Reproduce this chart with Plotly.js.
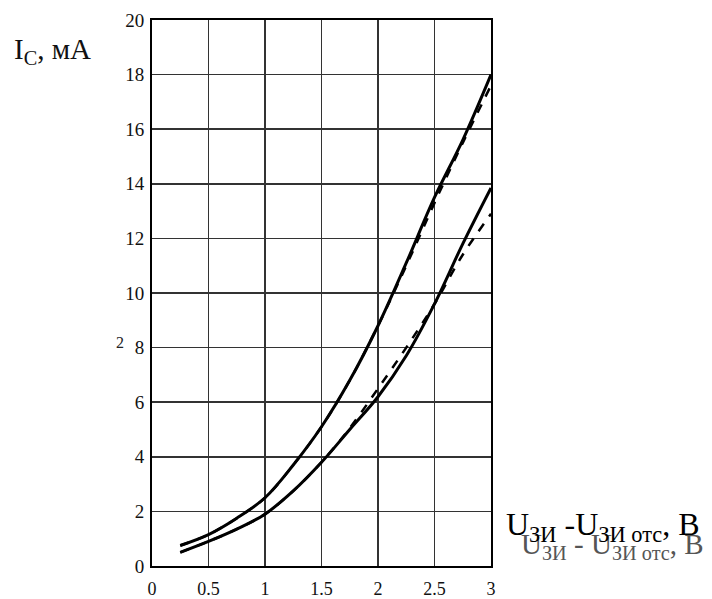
<!DOCTYPE html>
<html>
<head>
<meta charset="utf-8">
<script src="https://cdn.plot.ly/plotly-3.0.1.min.js"></script>
<style>html,body{margin:0;padding:0;background:#fff;}#chart{width:712px;height:599px;}</style>
</head>
<body>
<div id="chart"></div>
<script>
// Data
const xVals = [0.25, 0.5, 0.75, 1, 1.25, 1.5, 1.75, 2, 2.25, 2.5, 2.75, 3];
const upperSolid = [0.75, 1.15, 1.75, 2.5, 3.7, 5.1, 6.8, 8.8, 11.1, 13.5, 15.6, 18.0];
const upperDashed = [0.75, 1.15, 1.75, 2.5, 3.7, 5.1, 6.8, 8.8, 11.0, 13.3, 15.5, 17.6];
const lowerSolid = [0.5, 0.9, 1.35, 1.9, 2.75, 3.8, 5.0, 6.2, 7.7, 9.6, 11.8, 13.85];
const lowerDashed = [0.5, 0.9, 1.35, 1.9, 2.75, 3.8, 5.05, 6.5, 8.0, 9.6, 11.4, 12.9];
const xTicks = [0, 0.5, 1, 1.5, 2, 2.5, 3];
const xTickText = ['0', '0.5', '1', '1.5', '2', '2.5', '3'];
const yTicks = [0, 2, 4, 6, 8, 10, 12, 14, 16, 18, 20];

const serif = 'Liberation Serif, Times New Roman, serif';

const traces = [
  {x: xVals, y: upperDashed, mode: 'lines', line: {color: '#000', width: 2.5, dash: 'dash', shape: 'spline'}, hoverinfo: 'skip'},
  {x: xVals, y: lowerDashed, mode: 'lines', line: {color: '#000', width: 2.5, dash: 'dash', shape: 'spline'}, hoverinfo: 'skip'},
  {x: xVals, y: upperSolid, mode: 'lines', line: {color: '#000', width: 3, shape: 'spline'}, hoverinfo: 'skip'},
  {x: xVals, y: lowerSolid, mode: 'lines', line: {color: '#000', width: 3, shape: 'spline'}, hoverinfo: 'skip'}
];

const layout = {
  width: 712, height: 599,
  margin: {l: 152, r: 221, t: 20, b: 33},
  paper_bgcolor: '#fff', plot_bgcolor: '#fff',
  showlegend: false,
  font: {family: serif, color: '#111', size: 18},
  xaxis: {
    range: [0, 3], tickvals: xTicks, ticktext: xTickText,
    showgrid: true, gridcolor: '#333', gridwidth: 1.5,
    showline: true, linecolor: '#000', linewidth: 2, mirror: true,
    zeroline: false, ticks: '', ticklabelstandoff: 5,
    tickfont: {family: serif, size: 18, color: '#111'}
  },
  yaxis: {
    range: [0, 20], tickvals: yTicks,
    showgrid: true, gridcolor: '#333', gridwidth: 1.5,
    showline: true, linecolor: '#000', linewidth: 2, mirror: true,
    zeroline: false, ticks: '', ticklabelstandoff: 2,
    tickfont: {family: serif, size: 19, color: '#111'}
  },
  annotations: [
    {xref: 'paper', yref: 'paper', x: -0.413, y: 0.943, xanchor: 'left', yanchor: 'middle',
     text: 'I<sub>C</sub>, мА', showarrow: false, font: {family: serif, size: 29, color: '#111'}},
    {xref: 'paper', yref: 'paper', x: -0.095, y: 0.41, xanchor: 'center', yanchor: 'middle',
     text: '2', showarrow: false, font: {family: serif, size: 16, color: '#222'}},
    {xref: 'paper', yref: 'paper', x: 1.083, y: 0.036, xanchor: 'left', yanchor: 'middle',
     text: 'U<sub>ЗИ</sub> - U<sub>ЗИ отс</sub>, В', showarrow: false, font: {family: serif, size: 29, color: '#555'}},
    {xref: 'paper', yref: 'paper', x: 1.038, y: 0.072, xanchor: 'left', yanchor: 'middle',
     text: 'U<sub>ЗИ</sub> -U<sub>ЗИ отс</sub>, B', showarrow: false, font: {family: serif, size: 32, color: '#000'}}
  ]
};

Plotly.newPlot('chart', traces, layout, {displayModeBar: false, staticPlot: true});
</script>
</body>
</html>
